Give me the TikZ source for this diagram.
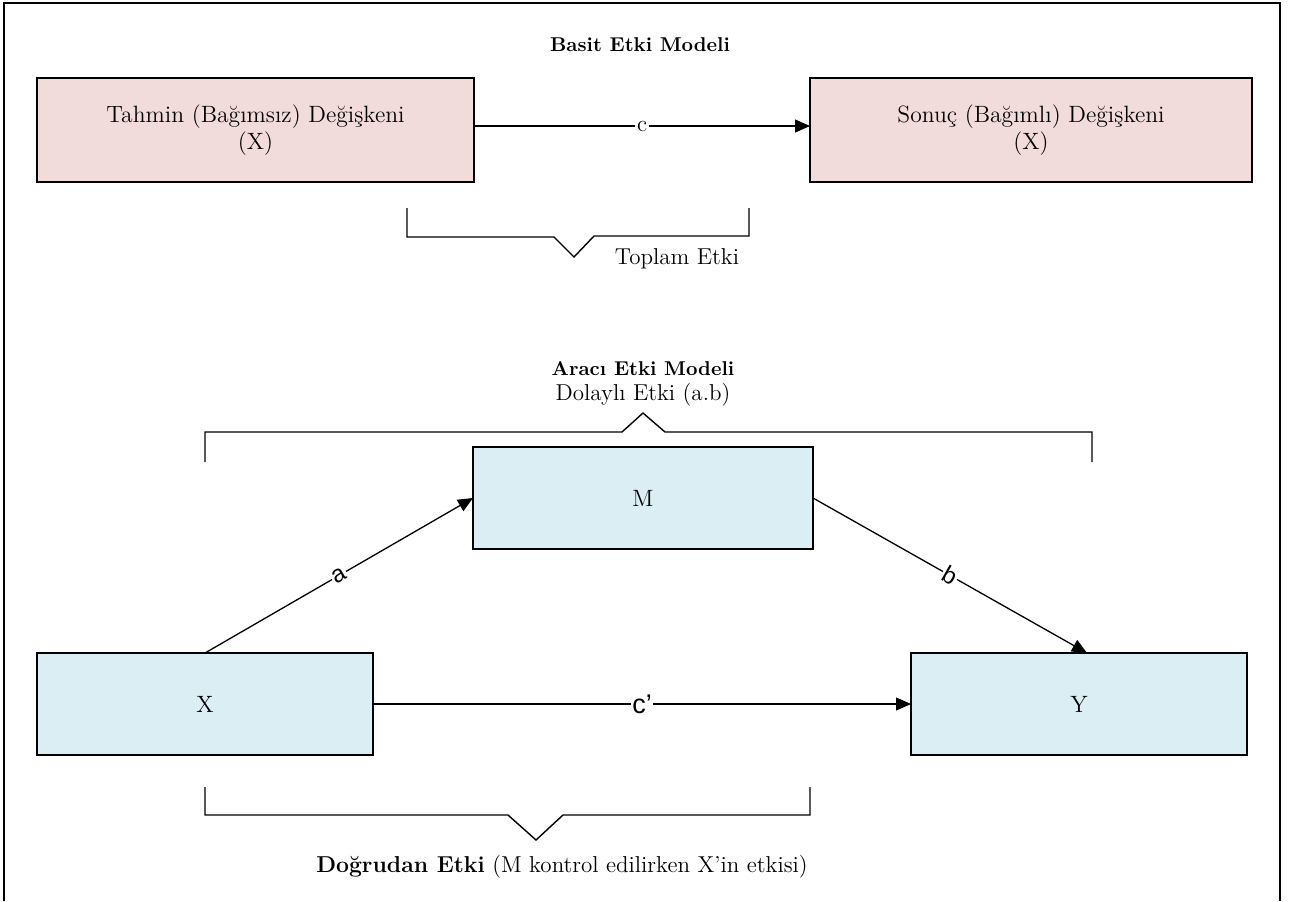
\documentclass[tikz,border=0pt]{standalone}
\usepackage{fontspec}
\newfontfamily\labelsans{Liberation Sans}
\usetikzlibrary{arrows.meta,calc}
\definecolor{pinkfill}{HTML}{F2DCDB}
\definecolor{bluefill}{HTML}{DAEEF3}
\begin{document}
\begin{tikzpicture}[x=0.5pt,y=-0.5pt,
  txt/.style={font=\fontsize{11.5}{13.5}\selectfont, inner sep=0pt, align=center},
  boxtxt/.style={font=\fontsize{11.8}{13.8}\selectfont, inner sep=0pt, align=center},
  ttl/.style={font=\bfseries\fontsize{10}{12}\selectfont, inner sep=0pt, align=center},
  pinkbox/.style={draw=black, line width=0.9pt, fill=pinkfill, boxtxt, outer sep=0pt},
  bluebox/.style={draw=black, line width=0.9pt, fill=bluefill, boxtxt, outer sep=0pt},
  conn/.style={line width=0.65pt, -{Triangle[length=7.5pt,width=6.5pt]}},
  bracket/.style={line width=0.7pt},
  slab/.style={font=\labelsans\fontsize{12}{14}\selectfont, fill=white, inner sep=0.6pt},
]
\useasboundingbox (0,0) rectangle (1290,901);
\draw[line width=1.3pt] (4,901) -- (4,3) -- (1280,3) -- (1280,901);

% Simple effect model
\node[ttl] (t1) at (640,45) {Basit Etki Modeli};
\node[pinkbox, minimum width=218.5pt, minimum height=52pt] (P1) at (255.5,130)
  {Tahmin (Bağımsız) Değişkeni\\(X)};
\node[pinkbox, minimum width=221pt, minimum height=52pt] (P2) at (1031,130)
  {Sonuç (Bağımlı) Değişkeni\\(X)};
\draw[conn] ([yshift=2pt]P1.east) -- ([yshift=2pt]P2.west) node[midway, txt, fill=white, inner sep=1pt] (lc) {c};

\draw[bracket] (407,208) -- (407,237) -- (554,237) -- (574,257) -- (594,236) -- (749,236) -- (749,208);
\node[txt] (tot) at (677,259) {Toplam Etki};

% Mediation model
\node[ttl] (t2) at (643,369) {Aracı Etki Modeli};
\node[txt] (ind) at (643,395) {Dolaylı Etki (a.b)};
\draw[bracket] (205,462) -- (205,432) -- (622,432) -- (643,413) -- (665,432) -- (1092,432) -- (1092,462);

\node[bluebox, minimum width=170pt, minimum height=51pt] (M) at (643,498) {M};
\node[bluebox, minimum width=168pt, minimum height=51pt] (X) at (205,704) {X};
\node[bluebox, minimum width=168pt, minimum height=51pt] (Y) at (1079,704) {Y};

\draw[conn] (X.north) -- (M.west) node[midway, sloped, slab] (la) {a};
\draw[conn] (M.east) -- ([xshift=4pt]Y.north) node[midway, sloped, slab] (lb) {b};
\draw[conn] (X.east) -- (Y.west) node[midway, slab, font=\labelsans\fontsize{13.5}{15}\selectfont] (lc2) {c’};

\draw[bracket] (205,787) -- (205,815) -- (508,815) -- (536,840) -- (563,815) -- (810,815) -- (810,787);
\node[txt] (dir) at (562,867) {\textbf{Doğrudan Etki} (M kontrol edilirken X’in etkisi)};
\end{tikzpicture}
\end{document}
